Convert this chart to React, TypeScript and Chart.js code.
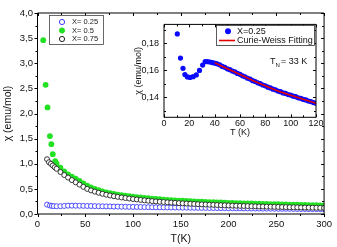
import React, { useEffect, useRef } from 'react';
import { Chart, registerables } from 'chart.js';
Chart.register(...registerables);

const FONT = "'Liberation Sans', Arial, sans-serif";

// ---- main chart data ----
const tLowBlue = [10, 13, 15, 17];
const chiLowBlue = [0.187, 0.169, 0.161, 0.157];
const tLowGreen = [6, 8.5, 10.5, 13, 14.5, 16, 18.5];
const chiLowGreen = [3.46, 2.57, 2.12, 1.55, 1.39, 1.19, 1.05];
const tLowBlack = [10, 12, 14, 16, 18];
const chiLowBlack = [1.09, 1.03, 1.0, 0.965, 0.93];

const tDense = [
  20, 24, 28, 32, 36, 40, 44, 48, 52, 56,
  60, 64, 68, 72, 76, 80, 84, 88, 92, 96,
  100, 104, 108, 112, 116, 120, 124, 128, 132, 136,
  140, 144, 148, 152, 156, 160, 164, 168, 172, 176,
  180, 184, 188, 192, 196, 200, 204, 208, 212, 216,
  220, 224, 228, 232, 236, 240, 244, 248, 252, 256,
  260, 264, 268, 272, 276, 280, 284, 288, 292, 296,
  300,
];
const chiGreen = [
  1.0, 0.92, 0.85, 0.79, 0.745, 0.705, 0.66, 0.61, 0.565, 0.53,
  0.5, 0.475, 0.452, 0.432, 0.414, 0.4, 0.387, 0.375, 0.364, 0.354,
  0.345, 0.336, 0.328, 0.32, 0.313, 0.306, 0.3, 0.294, 0.288, 0.283,
  0.278, 0.273, 0.268, 0.264, 0.26, 0.256, 0.252, 0.248, 0.245, 0.241,
  0.238, 0.235, 0.232, 0.229, 0.226, 0.223, 0.221, 0.218, 0.216, 0.213,
  0.211, 0.209, 0.206, 0.204, 0.202, 0.2, 0.198, 0.196, 0.194, 0.192,
  0.19, 0.188, 0.186, 0.184, 0.182, 0.18, 0.178, 0.177, 0.175, 0.173,
  0.172,
];
const chiBlack = [
  0.9, 0.835, 0.775, 0.725, 0.675, 0.63, 0.585, 0.54, 0.5, 0.47,
  0.445, 0.422, 0.402, 0.384, 0.368, 0.354, 0.341, 0.329, 0.318, 0.308,
  0.298, 0.289, 0.28, 0.272, 0.264, 0.257, 0.25, 0.244, 0.238, 0.232,
  0.227, 0.222, 0.217, 0.212, 0.208, 0.204, 0.2, 0.196, 0.192, 0.189,
  0.185, 0.182, 0.179, 0.176, 0.173, 0.17, 0.167, 0.165, 0.162, 0.16,
  0.158, 0.155, 0.153, 0.151, 0.149, 0.147, 0.145, 0.143, 0.141, 0.139,
  0.137, 0.135, 0.134, 0.132, 0.13, 0.129, 0.127, 0.126, 0.124, 0.123,
  0.121,
];
const chiBlue = [
  0.155, 0.156, 0.16, 0.166, 0.166, 0.165, 0.164, 0.162, 0.16, 0.159,
  0.157, 0.155, 0.153, 0.152, 0.15, 0.148, 0.147, 0.145, 0.144, 0.142,
  0.141, 0.14, 0.139, 0.137, 0.136, 0.135, 0.134, 0.133, 0.132, 0.131,
  0.13, 0.129, 0.128, 0.127, 0.126, 0.125, 0.124, 0.123, 0.122, 0.121,
  0.12, 0.119, 0.118, 0.117, 0.116, 0.115, 0.114, 0.113, 0.112, 0.112,
  0.111, 0.11, 0.109, 0.108, 0.107, 0.107, 0.106, 0.105, 0.104, 0.103,
  0.103, 0.102, 0.101, 0.1, 0.1, 0.099, 0.098, 0.097, 0.097, 0.096,
  0.095,
];

// ---- inset data ----
const tInset = [
  10.5, 13, 15, 16.5, 18.5, 20.5, 23, 25.5, 28, 30.5,
  32.5, 34.5, 36.5, 38.5, 40.5, 42, 44, 46, 48, 50,
  52, 54, 56, 58, 60, 62, 64, 66, 68, 70,
  72, 74, 76, 78, 80, 82, 84, 86, 88, 90,
  92, 94, 96, 98, 100, 102, 104, 106, 108, 110,
  112, 114, 116, 118, 120,
];
const chiInset = [
  0.1869, 0.169, 0.1614, 0.1567, 0.155, 0.1546, 0.1552, 0.1565, 0.1598, 0.1638,
  0.1664, 0.1663, 0.166, 0.1656, 0.1651, 0.1647, 0.164, 0.1628, 0.1621, 0.161,
  0.1604, 0.1593, 0.1587, 0.1576, 0.1569, 0.1558, 0.1551, 0.154, 0.1534, 0.1522,
  0.1516, 0.1506, 0.15, 0.149, 0.1484, 0.1474, 0.1468, 0.1459, 0.1454, 0.1445,
  0.144, 0.1431, 0.1427, 0.1419, 0.1415, 0.1407, 0.1403, 0.1395, 0.1391, 0.1383,
  0.1379, 0.1371, 0.1367, 0.1359, 0.1355,
];
const tFit = [40, 50, 60, 70, 80, 90, 100, 110, 120];
const chiFit = [0.1656, 0.1611, 0.1568, 0.1524, 0.1484, 0.1446, 0.1414, 0.1384, 0.1354];

// ---- ticks ----
const mainXTicks = [0, 50, 100, 150, 200, 250, 300];
const mainXMinor = [25, 75, 125, 175, 225, 275];
const mainYTicks = [0, 0.5, 1, 1.5, 2, 2.5, 3, 3.5, 4];
const mainYMinor = [0.25, 0.75, 1.25, 1.75, 2.25, 2.75, 3.25, 3.75];
const insetXTicks = [0, 20, 40, 60, 80, 100, 120];
const insetXMinor = [10, 30, 50, 70, 90, 110];
const insetYTicks = [0.14, 0.16, 0.18];
const insetYMinor = [0.13, 0.15, 0.17, 0.19];

const seriesLabels = ['X= 0.25', 'X= 0.5', 'X= 0.75'];
const insetLabels = ['X=0.25', 'Curie-Weiss Fitting'];

const toPts = (xs: number[], ys: number[]) => xs.map((x, i) => ({ x, y: ys[i] }));

type FrameCfg = {
  xMajor: number[]; xMinor: number[]; yMajor: number[]; yMinor: number[];
  leftOut: boolean; bottomOut: boolean; major: number; minor: number;
};

function framePlugin(id: string, cfg: FrameCfg) {
  return {
    id,
    afterDatasetsDraw(chart: any) {
      const { ctx, chartArea: a, scales } = chart;
      const xs = scales.x, ys = scales.y;
      ctx.save();
      ctx.strokeStyle = '#000';
      ctx.lineWidth = 1;
      ctx.beginPath();
      ctx.rect(a.left, a.top, a.right - a.left, a.bottom - a.top);
      ctx.stroke();
      ctx.beginPath();
      const tickX = (v: number, len: number) => {
        const px = Math.round(xs.getPixelForValue(v)) + 0.5;
        const bd = cfg.bottomOut ? len : -len;
        ctx.moveTo(px, a.bottom); ctx.lineTo(px, a.bottom + bd);
        ctx.moveTo(px, a.top); ctx.lineTo(px, a.top + len);
      };
      const tickY = (v: number, len: number) => {
        const py = Math.round(ys.getPixelForValue(v)) + 0.5;
        const ld = cfg.leftOut ? -len : len;
        ctx.moveTo(a.left, py); ctx.lineTo(a.left + ld, py);
        ctx.moveTo(a.right, py); ctx.lineTo(a.right - len, py);
      };
      cfg.xMajor.forEach((v) => tickX(v, cfg.major));
      cfg.xMinor.forEach((v) => tickX(v, cfg.minor));
      cfg.yMajor.forEach((v) => tickY(v, cfg.major));
      cfg.yMinor.forEach((v) => tickY(v, cfg.minor));
      ctx.stroke();
      ctx.restore();
    },
  };
}

const mainLegend = {
  id: 'mainLegend',
  afterDraw(chart: any) {
    const ctx = chart.ctx;
    ctx.save();
    ctx.strokeStyle = '#444';
    ctx.lineWidth = 0.8;
    ctx.fillStyle = '#fff';
    ctx.fillRect(49.5, 15.5, 54, 29);
    ctx.strokeRect(49.5, 15.5, 54, 29);
    const rows = [22, 30.5, 39];
    const styles = [
      { fill: '#fff', stroke: '#3c3cff' },
      { fill: '#22e022', stroke: '#22e022' },
      { fill: '#fff', stroke: '#222' },
    ];
    rows.forEach((y, i) => {
      ctx.beginPath();
      ctx.arc(62, y, 2.6, 0, Math.PI * 2);
      ctx.fillStyle = styles[i].fill;
      ctx.fill();
      ctx.lineWidth = 1;
      ctx.strokeStyle = styles[i].stroke;
      ctx.stroke();
      ctx.fillStyle = '#222';
      ctx.font = `7.5px ${FONT}`;
      ctx.textBaseline = 'middle';
      ctx.textAlign = 'left';
      ctx.fillText(seriesLabels[i], 72, y);
    });
    ctx.restore();
  },
};

const insetLegend = {
  id: 'insetLegend',
  afterDraw(chart: any) {
    const ctx = chart.ctx;
    ctx.save();
    // legend box (canvas coords: page minus 128,14)
    ctx.fillStyle = '#fff';
    ctx.fillRect(88.5, 11.5, 98, 20);
    ctx.strokeStyle = '#333';
    ctx.lineWidth = 0.8;
    ctx.strokeRect(88.5, 11.5, 98, 20);
    ctx.beginPath();
    ctx.arc(100, 17.3, 3, 0, Math.PI * 2);
    ctx.fillStyle = '#0a0aff';
    ctx.fill();
    ctx.strokeStyle = '#e00000';
    ctx.lineWidth = 1.6;
    ctx.beginPath();
    ctx.moveTo(91, 26.5); ctx.lineTo(107, 26.5);
    ctx.stroke();
    ctx.fillStyle = '#111';
    ctx.font = `9px ${FONT}`;
    ctx.textBaseline = 'middle';
    ctx.textAlign = 'left';
    ctx.fillText(insetLabels[0], 109, 17.5);
    ctx.fillText(insetLabels[1], 109, 26.5);
    // T_N label
    ctx.font = `9px ${FONT}`;
    ctx.fillText('T', 142, 48);
    ctx.font = `6px ${FONT}`;
    ctx.fillText('N', 147.5, 51);
    ctx.font = `9px ${FONT}`;
    ctx.fillText('= 33 K', 153, 48);
    ctx.restore();
  },
};

export default function App() {
  const mainRef = useRef<HTMLCanvasElement>(null);
  const insetRef = useRef<HTMLCanvasElement>(null);

  useEffect(() => {
    Chart.defaults.font.family = FONT;
    Chart.defaults.color = '#000';
    const main = new Chart(mainRef.current!, {
      type: 'scatter',
      data: {
        datasets: [
          {
            label: seriesLabels[0],
            data: [...toPts(tLowBlue, chiLowBlue), ...toPts(tDense, chiBlue)],
            pointRadius: 2.5,
            pointBorderWidth: 0.9,
            borderColor: '#3c3cff',
            backgroundColor: '#ffffff',
            order: 2,
          },
          {
            label: seriesLabels[1],
            data: [...toPts(tLowGreen, chiLowGreen), ...toPts(tDense, chiGreen)],
            pointRadius: 2.9,
            pointBorderWidth: 0,
            borderColor: '#22e022',
            backgroundColor: '#22e022',
            order: 1,
          },
          {
            label: seriesLabels[2],
            data: [...toPts(tLowBlack, chiLowBlack), ...toPts(tDense, chiBlack)],
            pointRadius: 2.5,
            pointBorderWidth: 0.9,
            borderColor: '#222',
            backgroundColor: '#ffffff',
            order: 0,
          },
        ],
      },
      options: {
        animation: false,
        responsive: false,
        layout: { padding: { left: 0, right: 9, top: 13, bottom: 0 } },
        plugins: { legend: { display: false }, tooltip: { enabled: false } },
        scales: {
          x: {
            type: 'linear',
            min: 0,
            max: 300,
            afterFit: (s: any) => { s.height = 33; },
            afterBuildTicks: (s: any) => { s.ticks = mainXTicks.map((v) => ({ value: v })); },
            grid: { display: false, drawTicks: false },
            border: { display: false },
            ticks: { padding: 5, font: { size: 9.5 }, color: '#111', maxRotation: 0 },
            title: { display: true, text: 'T(K)', font: { size: 10.5 }, padding: { top: 0, bottom: 1.5 }, color: '#111' },
          },
          y: {
            type: 'linear',
            min: 0,
            max: 4,
            afterFit: (s: any) => { s.width = 37.5; },
            afterBuildTicks: (s: any) => { s.ticks = mainYTicks.map((v) => ({ value: v })); },
            grid: { display: false, drawTicks: false },
            border: { display: false },
            ticks: {
              padding: 4.5,
              font: { size: 9.5 },
              color: '#111',
              callback: (v: any) => Number(v).toFixed(1).replace('.', ','),
            },
            title: { display: true, text: 'χ (emu/mol)', font: { size: 10.5 }, padding: { top: 1.5, bottom: 0 }, color: '#111' },
          },
        },
      },
      plugins: [
        framePlugin('mainFrame', {
          xMajor: mainXTicks, xMinor: mainXMinor, yMajor: mainYTicks, yMinor: mainYMinor,
          leftOut: true, bottomOut: true, major: 3, minor: 2,
        }),
        mainLegend,
      ],
    } as any);

    const inset = new Chart(insetRef.current!, {
      type: 'scatter',
      data: {
        datasets: [
          {
            label: insetLabels[1],
            data: toPts(tFit, chiFit),
            showLine: true,
            borderColor: '#e00000',
            borderWidth: 1.6,
            pointRadius: 0,
            tension: 0.3,
            order: 0,
          },
          {
            label: insetLabels[0],
            data: toPts(tInset, chiInset),
            pointRadius: 2.6,
            pointBorderWidth: 0,
            borderColor: '#0a0aff',
            backgroundColor: '#0a0aff',
            order: 1,
          },
        ],
      },
      options: {
        animation: false,
        responsive: false,
        layout: { padding: { left: 0, right: 12, top: 7, bottom: 0 } },
        plugins: { legend: { display: false }, tooltip: { enabled: false } },
        scales: {
          x: {
            type: 'linear',
            min: 0,
            max: 120,
            afterFit: (s: any) => { s.height = 22.7; },
            afterBuildTicks: (s: any) => { s.ticks = insetXTicks.map((v) => ({ value: v })); },
            grid: { display: false, drawTicks: false },
            border: { display: false },
            ticks: { padding: 1, font: { size: 9 }, color: '#111', maxRotation: 0 },
            title: { display: true, text: 'T (K)', font: { size: 9 }, padding: { top: 0, bottom: 2.5 }, color: '#111' },
          },
          y: {
            type: 'linear',
            min: 0.125,
            max: 0.194,
            afterFit: (s: any) => { s.width = 36; },
            afterBuildTicks: (s: any) => { s.ticks = insetYTicks.map((v) => ({ value: v })); },
            grid: { display: false, drawTicks: false },
            border: { display: false },
            ticks: {
              padding: 5,
              font: { size: 9 },
              color: '#111',
              callback: (v: any) => Number(v).toFixed(2).replace('.', ','),
            },
            title: { display: true, text: 'χ (emu/mol)', font: { size: 9 }, padding: { top: 5, bottom: 0 }, color: '#111' },
          },
        },
      },
      plugins: [
        framePlugin('insetFrame', {
          xMajor: insetXTicks, xMinor: insetXMinor, yMajor: insetYTicks, yMinor: insetYMinor,
          leftOut: false, bottomOut: false, major: 3, minor: 2,
        }),
        insetLegend,
      ],
    } as any);

    return () => {
      main.destroy();
      inset.destroy();
    };
  }, []);

  return (
    <div style={{ position: 'fixed', left: 0, top: 0, width: 337, height: 247, background: '#fff' }}>
      <canvas ref={mainRef} width={337} height={247} style={{ position: 'absolute', left: 0, top: 0, width: 337, height: 247 }} />
      <canvas ref={insetRef} width={200} height={126} style={{ position: 'absolute', left: 128, top: 14, width: 200, height: 126 }} />
    </div>
  );
}
